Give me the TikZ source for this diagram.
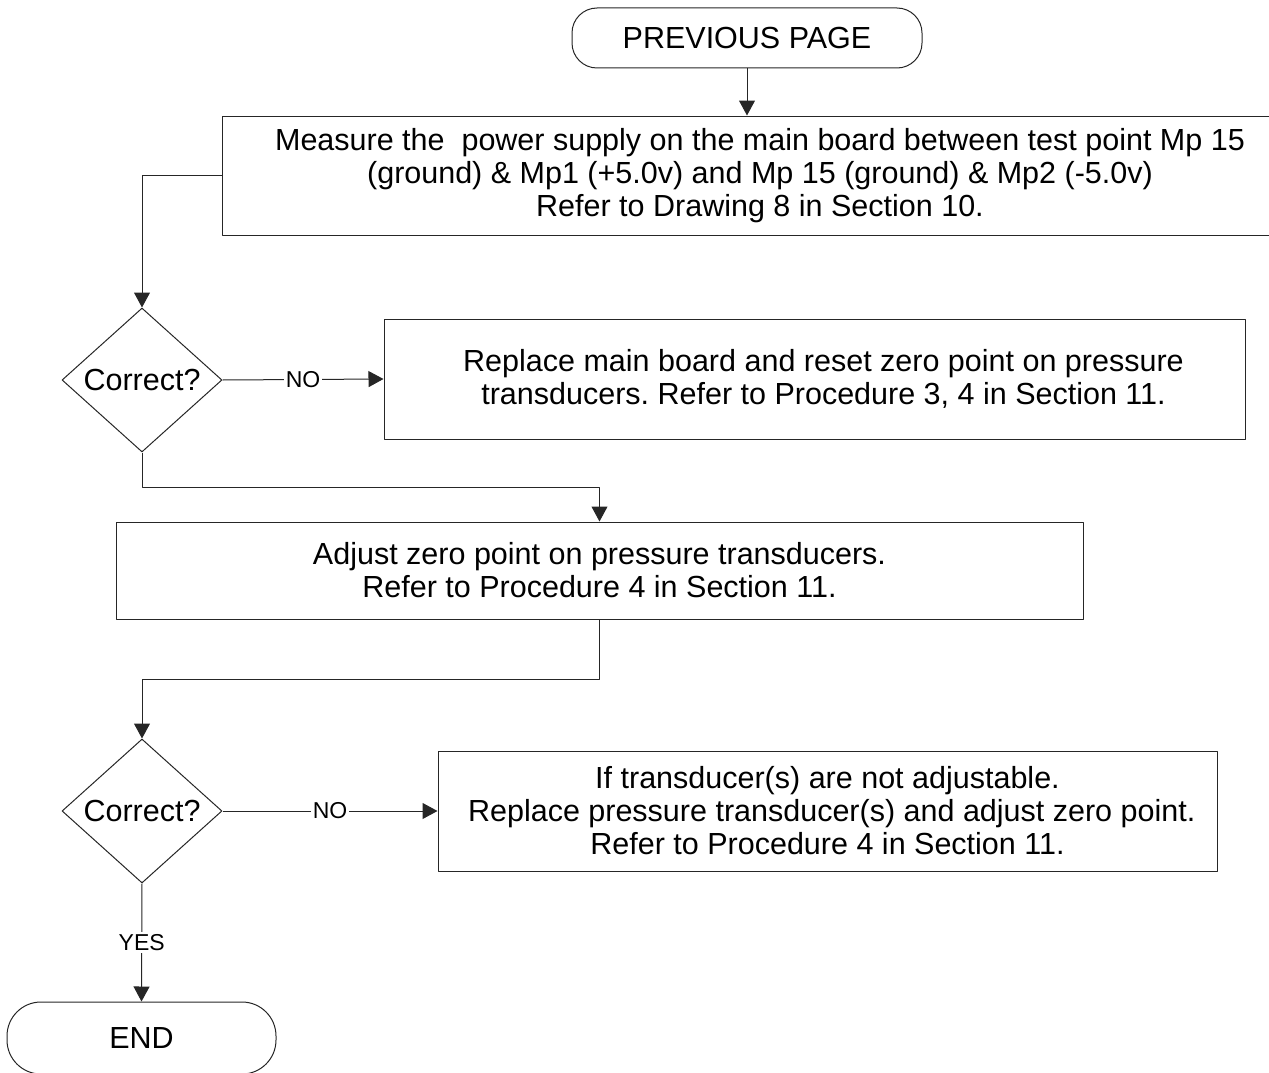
\documentclass[tikz,border=0pt]{standalone}
\usepackage{fontspec}
\setmainfont{Liberation Sans}
\usetikzlibrary{shapes.geometric,arrows.meta}
\frenchspacing

\begin{document}
\begin{tikzpicture}[
  x=1pt, y=-1pt,
  line join=round,
  edge/.style={line width=1pt, draw=black!85},
  arr/.style={edge, -{Triangle[length=15pt,width=16pt]}},
  txt/.style={font=\fontsize{30.5}{33}\selectfont, align=center},
  lbl/.style={font=\fontsize{23}{26}\selectfont, fill=white, inner sep=2pt},
  procbox/.style={edge, txt, rectangle, inner sep=0pt},
  term/.style={edge, txt, rectangle, rounded corners=25pt, inner sep=0pt},
  decide/.style={edge, txt, diamond, inner sep=0pt, aspect=1.11,
    minimum width=160pt, minimum height=144pt},
]

% ── the page, the first box runs off its right edge ───────────────────────
\useasboundingbox (0,0) rectangle (1269,1073);
\clip (0,0) rectangle (1269,1073);

% ── the boxes ─────────────────────────────────────────────────────────────
\node[term, minimum width=350pt, minimum height=60pt] (prev) at (747,38) {PREVIOUS PAGE};

\node[procbox, minimum width=1076pt, minimum height=119pt] (measure) at (760,175.5)
  {Measure the\ \ power supply on the main board between test point Mp 15\\
   (ground) \& Mp1 (+5.0v) and Mp 15 (ground) \& Mp2 (-5.0v)\\
   Refer to Drawing 8 in Section 10.};

\node[decide] (check1) at (142,380) {Correct?};

\node[procbox, minimum width=861pt, minimum height=120pt] (board) at (814.5,379)
  {\hspace*{18pt}Replace main board and reset zero point on pressure\\
   \hspace*{18pt}transducers. Refer to Procedure 3, 4 in Section 11.};

\node[procbox, minimum width=967pt, minimum height=97pt] (adjust) at (599.5,570.5)
  {Adjust zero point on pressure transducers.\\
   Refer to Procedure 4 in Section 11.};

\node[decide] (check2) at (142,811) {Correct?};

\node[procbox, minimum width=779pt, minimum height=120pt] (swap) at (827.5,811)
  {If transducer(s) are not adjustable.\\
   \ Replace pressure transducer(s) and adjust zero point.\\
   Refer to Procedure 4 in Section 11.};

\node[term, rounded corners=34pt, minimum width=269pt, minimum height=72pt] (finish) at (141.5,1038) {END};

% ── the connectors ────────────────────────────────────────────────────────
\draw[arr] (prev) -- (prev |- measure.north);
\draw[arr] (measure.west) -| (check1.north);
\draw[arr] (check1.east) -- node[lbl] {NO} (board.west);
\draw[arr] (check1.south) -- ++(0,35) -| (adjust.north);
\draw[arr] (adjust.south) -- ++(0,60) -| (check2.north);
\draw[arr] (check2.east) -- node[lbl] {NO} (swap.west);
\draw[arr] (check2.south) -- node[lbl] {YES} (finish.north);

\end{tikzpicture}
\end{document}
